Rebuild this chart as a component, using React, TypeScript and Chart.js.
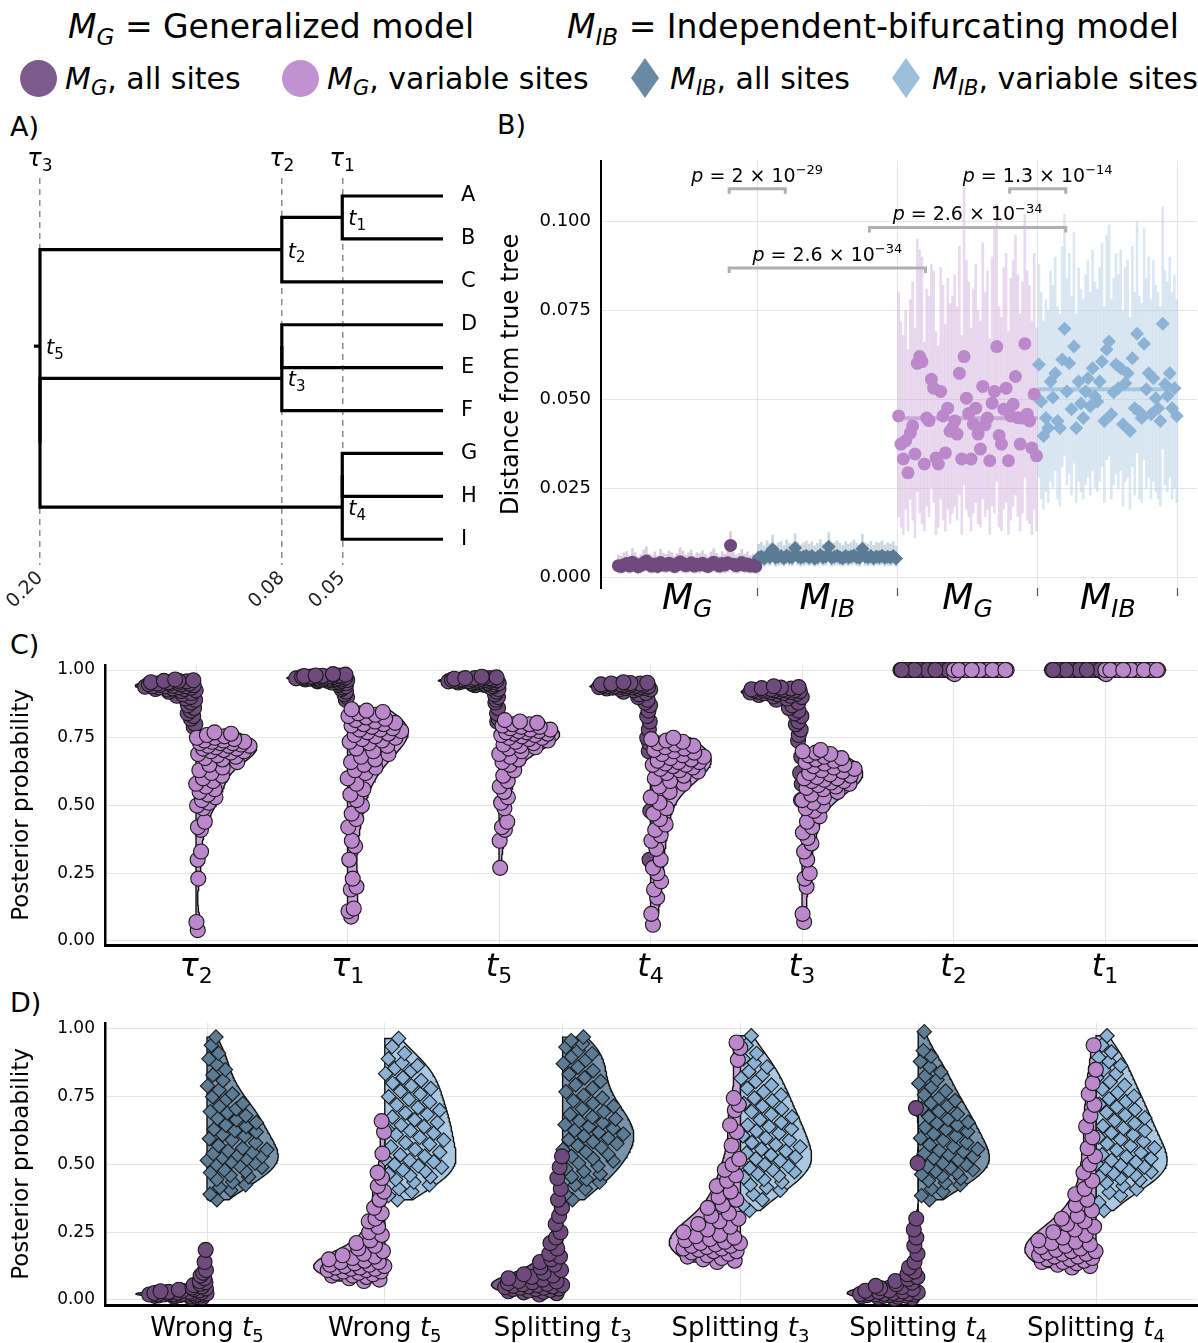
import React, { useEffect, useRef } from 'react';
import { Chart, registerables } from 'chart.js';

Chart.register(...registerables);

const FONT = "'DejaVu Sans', sans-serif";
Chart.defaults.font.family = FONT;
Chart.defaults.color = '#000';

/* ======================= DATA ======================= */
// ---- Panel A : tree
const tipLabels = ['A', 'B', 'C', 'D', 'E', 'F', 'G', 'H', 'I'];
const nodeNames = ['n1', 'n2', 'n3a', 'n3', 'n4a', 'n4', 'n5a', 'root'];
const nodeTimes = [0.05, 0.08, 0.08, 0.08, 0.05, 0.05, 0.2, 0.2];
const nodeChildren = [['A', 'B'], ['n1', 'C'], ['D', 'E'], ['n3a', 'F'], ['G', 'H'], ['n4a', 'I'], ['n3', 'n4'], ['n2', 'n5a']];
const nodeTimeLabels = ['1', '2', '', '3', '', '4', '', '5'];
const tauTimes = [0.2, 0.08, 0.05];
const tauLabels = ['3', '2', '1'];
const rootEdge = 0.003;

// ---- Panel B : distance from true tree
const bCategories = [['M', 'G'], ['M', 'IB'], ['M', 'G'], ['M', 'IB']];
const bYTicks = [0, 0.025, 0.05, 0.075, 0.1];
const bMgAll = [0.0032,0.0030,0.0035,0.0038,0.0031,0.0042,0.0036,0.0029,0.0033,0.0040,0.0045,0.0034,0.0031,0.0037,0.0030,0.0041,0.0035,0.0033,0.0039,0.0036,0.0030,0.0034,0.0043,0.0038,0.0032,0.0035,0.0040,0.0031,0.0036,0.0034,0.0039,0.0033,0.0030,0.0037,0.0042,0.0035,0.0031,0.0038,0.0034,0.0040,0.0089,0.0036,0.0032,0.0035,0.0041,0.0033,0.0037,0.0031,0.0034,0.0030];
const bMgAllLow = [0.0012,0.0010,0.0013,0.0015,0.0011,0.0016,0.0013,0.0009,0.0012,0.0015,0.0017,0.0012,0.0011,0.0014,0.0010,0.0016,0.0013,0.0012,0.0015,0.0013,0.0010,0.0012,0.0017,0.0014,0.0011,0.0013,0.0015,0.0011,0.0013,0.0012,0.0015,0.0012,0.0010,0.0014,0.0016,0.0013,0.0011,0.0014,0.0012,0.0015,0.0040,0.0013,0.0011,0.0013,0.0016,0.0012,0.0014,0.0011,0.0012,0.0010];
const bMgAllHigh = [0.0062,0.0058,0.0068,0.0072,0.0060,0.0080,0.0069,0.0057,0.0063,0.0076,0.0085,0.0065,0.0060,0.0071,0.0058,0.0078,0.0067,0.0064,0.0074,0.0069,0.0058,0.0066,0.0082,0.0073,0.0062,0.0068,0.0076,0.0060,0.0069,0.0066,0.0074,0.0064,0.0058,0.0071,0.0080,0.0067,0.0060,0.0072,0.0065,0.0076,0.0128,0.0069,0.0062,0.0067,0.0078,0.0064,0.0071,0.0060,0.0065,0.0058];
const bIbAll = [0.0055,0.0058,0.0052,0.0060,0.0056,0.0078,0.0054,0.0057,0.0059,0.0053,0.0061,0.0056,0.0055,0.0082,0.0058,0.0054,0.0057,0.0060,0.0055,0.0059,0.0052,0.0056,0.0062,0.0055,0.0058,0.0085,0.0054,0.0057,0.0060,0.0056,0.0053,0.0059,0.0055,0.0058,0.0061,0.0056,0.0054,0.0080,0.0057,0.0055,0.0059,0.0053,0.0058,0.0056,0.0060,0.0054,0.0057,0.0055,0.0059,0.0052];
const bIbAllLow = [0.0032,0.0034,0.0030,0.0035,0.0033,0.0045,0.0031,0.0033,0.0034,0.0031,0.0036,0.0033,0.0032,0.0048,0.0034,0.0031,0.0033,0.0035,0.0032,0.0034,0.0030,0.0033,0.0036,0.0032,0.0034,0.0050,0.0031,0.0033,0.0035,0.0033,0.0031,0.0034,0.0032,0.0034,0.0036,0.0033,0.0031,0.0047,0.0033,0.0032,0.0034,0.0031,0.0034,0.0033,0.0035,0.0031,0.0033,0.0032,0.0034,0.0030];
const bIbAllHigh = [0.0092,0.0098,0.0088,0.0102,0.0094,0.0118,0.0090,0.0096,0.0100,0.0089,0.0104,0.0095,0.0093,0.0122,0.0098,0.0091,0.0096,0.0101,0.0093,0.0099,0.0088,0.0095,0.0105,0.0093,0.0098,0.0125,0.0091,0.0096,0.0102,0.0095,0.0089,0.0100,0.0093,0.0098,0.0104,0.0095,0.0091,0.0120,0.0097,0.0093,0.0100,0.0089,0.0098,0.0095,0.0102,0.0091,0.0096,0.0093,0.0100,0.0088];
const bMgVar = [0.0453,0.0374,0.0332,0.0383,0.0293,0.0405,0.0425,0.0346,0.0601,0.0620,0.0606,0.0318,0.0447,0.0440,0.0556,0.0531,0.0335,0.0318,0.0522,0.0453,0.0349,0.0475,0.0410,0.0419,0.0439,0.0402,0.0573,0.0332,0.0620,0.0503,0.0460,0.0332,0.0430,0.0475,0.0402,0.0360,0.0536,0.0428,0.0447,0.0327,0.0489,0.0522,0.0648,0.0398,0.0374,0.0472,0.0531,0.0327,0.0453,0.0486,0.0564,0.0448,0.0374,0.0447,0.0656,0.0458,0.0439,0.0363,0.0514,0.0341];
const bMgVarLow = [0.017,0.014,0.012,0.019,0.013,0.022,0.016,0.011,0.024,0.018,0.015,0.013,0.020,0.017,0.025,0.021,0.012,0.014,0.022,0.016,0.013,0.019,0.015,0.018,0.020,0.016,0.023,0.012,0.026,0.019,0.017,0.013,0.018,0.021,0.015,0.014,0.022,0.017,0.019,0.012,0.020,0.018,0.027,0.014,0.013,0.019,0.021,0.012,0.016,0.020,0.023,0.017,0.013,0.018,0.028,0.016,0.015,0.012,0.019,0.013];
const bMgVarHigh = [0.080,0.072,0.068,0.075,0.064,0.078,0.083,0.070,0.095,0.092,0.090,0.066,0.081,0.079,0.088,0.086,0.069,0.065,0.087,0.082,0.071,0.084,0.077,0.079,0.085,0.076,0.093,0.068,0.110,0.089,0.083,0.070,0.081,0.088,0.075,0.072,0.094,0.080,0.086,0.067,0.090,0.098,0.105,0.076,0.073,0.087,0.091,0.069,0.084,0.089,0.096,0.085,0.074,0.083,0.102,0.086,0.082,0.072,0.091,0.070];
const bIbVar = [0.0598,0.0494,0.0397,0.0447,0.0419,0.0550,0.0505,0.0573,0.0439,0.0419,0.0612,0.0698,0.0522,0.0601,0.0472,0.0648,0.0419,0.0550,0.0488,0.0447,0.0522,0.0559,0.0480,0.0587,0.0508,0.0494,0.0550,0.0606,0.0439,0.0640,0.0662,0.0458,0.0520,0.0598,0.0531,0.0587,0.0430,0.0545,0.0573,0.0411,0.0615,0.0475,0.0684,0.0465,0.0447,0.0656,0.0528,0.0573,0.0458,0.0559,0.0503,0.0475,0.0439,0.0712,0.0542,0.0510,0.0573,0.0475,0.0531,0.0453];
const bIbVarLow = [0.028,0.022,0.019,0.024,0.021,0.027,0.025,0.030,0.022,0.020,0.031,0.034,0.026,0.029,0.023,0.032,0.021,0.027,0.024,0.022,0.026,0.028,0.023,0.030,0.025,0.024,0.027,0.031,0.021,0.033,0.034,0.022,0.026,0.029,0.025,0.030,0.020,0.027,0.028,0.019,0.031,0.023,0.035,0.022,0.021,0.033,0.025,0.028,0.022,0.027,0.024,0.022,0.020,0.036,0.026,0.024,0.028,0.022,0.025,0.021];
const bIbVarHigh = [0.088,0.080,0.072,0.078,0.075,0.086,0.082,0.090,0.076,0.074,0.093,0.102,0.084,0.091,0.079,0.097,0.074,0.087,0.081,0.078,0.085,0.089,0.080,0.092,0.083,0.081,0.087,0.094,0.076,0.096,0.099,0.078,0.084,0.091,0.085,0.092,0.075,0.087,0.089,0.073,0.093,0.080,0.100,0.079,0.077,0.098,0.084,0.090,0.078,0.089,0.082,0.080,0.076,0.104,0.086,0.083,0.090,0.080,0.085,0.078];
const pMantissa = ['2', '1.3', '2.6', '2.6'];
const pExponent = ['\u221229', '\u221214', '\u221234', '\u221234'];
const pFrom = [80, 280, 180, 80];
const pTo = [120, 320, 320, 220];
const pLevel = [0.1092, 0.1092, 0.0983, 0.0869];

// ---- Panel C : posterior probability of divergence events
const probTicks = [0, 0.25, 0.5, 0.75, 1];
const cCategories = [['\u03c4', '2'], ['\u03c4', '1'], ['t', '5'], ['t', '4'], ['t', '3'], ['t', '2'], ['t', '1']];
const cTau2All = [0.965,0.962,0.96,0.96,0.958,0.955,0.955,0.953,0.95,0.95,0.95,0.948,0.946,0.945,0.944,0.942,0.94,0.94,0.94,0.938,0.936,0.935,0.934,0.932,0.93,0.93,0.928,0.925,0.922,0.92,0.915,0.91,0.905,0.9,0.895,0.89,0.88,0.87,0.86,0.85,0.84,0.83,0.82,0.80,0.79];
const cTau2Var = [0.77,0.765,0.76,0.755,0.75,0.75,0.745,0.74,0.74,0.735,0.735,0.73,0.73,0.73,0.725,0.72,0.72,0.72,0.715,0.71,0.71,0.705,0.70,0.70,0.695,0.69,0.685,0.68,0.675,0.67,0.66,0.65,0.64,0.63,0.62,0.61,0.60,0.59,0.58,0.57,0.56,0.55,0.54,0.53,0.52,0.51,0.50,0.49,0.44,0.42,0.41,0.33,0.30,0.23,0.07,0.04];
const cTau1All = [0.985,0.983,0.982,0.98,0.98,0.979,0.978,0.977,0.976,0.976,0.975,0.975,0.974,0.973,0.972,0.971,0.971,0.97,0.97,0.969,0.968,0.968,0.967,0.966,0.965,0.965,0.964,0.963,0.962,0.961,0.96,0.96,0.958,0.956,0.954,0.952,0.95,0.945,0.94,0.935,0.93,0.92,0.91,0.9,0.89];
const cTau1Var = [0.855,0.85,0.845,0.84,0.835,0.83,0.825,0.82,0.815,0.81,0.805,0.80,0.80,0.795,0.79,0.785,0.78,0.78,0.775,0.77,0.765,0.76,0.755,0.75,0.745,0.74,0.735,0.73,0.72,0.71,0.70,0.69,0.68,0.67,0.66,0.65,0.64,0.63,0.62,0.60,0.58,0.56,0.54,0.52,0.50,0.47,0.45,0.42,0.37,0.35,0.30,0.23,0.20,0.19,0.12,0.11,0.09];
const cT5All = [0.975,0.973,0.972,0.97,0.97,0.97,0.968,0.967,0.966,0.965,0.965,0.964,0.963,0.962,0.962,0.961,0.96,0.96,0.959,0.958,0.958,0.957,0.956,0.955,0.954,0.953,0.952,0.951,0.95,0.948,0.946,0.945,0.944,0.94,0.935,0.93,0.92,0.91,0.9,0.89,0.88,0.86,0.84,0.82,0.81];
const cT5Var = [0.815,0.81,0.805,0.80,0.80,0.795,0.79,0.79,0.785,0.78,0.78,0.775,0.775,0.77,0.77,0.765,0.765,0.76,0.76,0.755,0.75,0.75,0.745,0.74,0.735,0.73,0.725,0.72,0.715,0.71,0.70,0.69,0.68,0.67,0.66,0.65,0.63,0.61,0.59,0.57,0.55,0.53,0.51,0.49,0.44,0.42,0.41,0.37,0.27];
const cT4All = [0.955,0.953,0.952,0.95,0.95,0.948,0.947,0.946,0.945,0.945,0.944,0.943,0.942,0.941,0.94,0.94,0.939,0.938,0.938,0.937,0.936,0.935,0.934,0.933,0.932,0.931,0.93,0.928,0.925,0.92,0.915,0.91,0.9,0.89,0.88,0.87,0.85,0.83,0.81,0.78,0.75,0.73,0.70,0.48,0.30];
const cT4Var = [0.75,0.745,0.74,0.735,0.73,0.725,0.72,0.715,0.71,0.705,0.70,0.695,0.69,0.685,0.68,0.675,0.67,0.665,0.66,0.66,0.655,0.65,0.65,0.645,0.64,0.635,0.63,0.625,0.62,0.61,0.60,0.59,0.58,0.57,0.55,0.53,0.51,0.49,0.47,0.45,0.43,0.41,0.39,0.37,0.34,0.30,0.27,0.25,0.22,0.19,0.16,0.10,0.06];
const cT3All = [0.94,0.937,0.935,0.933,0.932,0.93,0.929,0.928,0.927,0.926,0.925,0.925,0.924,0.923,0.922,0.921,0.92,0.919,0.918,0.917,0.915,0.914,0.912,0.91,0.908,0.905,0.902,0.90,0.895,0.89,0.88,0.87,0.86,0.85,0.84,0.83,0.81,0.80,0.78,0.76,0.74,0.68,0.62,0.58,0.52];
const cT3Var = [0.705,0.70,0.695,0.69,0.685,0.68,0.675,0.67,0.665,0.66,0.655,0.65,0.645,0.64,0.635,0.63,0.625,0.62,0.615,0.61,0.605,0.60,0.60,0.595,0.59,0.59,0.585,0.58,0.575,0.57,0.565,0.56,0.55,0.54,0.53,0.52,0.51,0.50,0.49,0.48,0.46,0.44,0.42,0.40,0.38,0.36,0.33,0.30,0.25,0.23,0.20,0.10,0.07];
const cT2All = [1,1,1,1,1,1,1,1,1,1,1,1,1,1,1,1,1,1,1,1,1,1,1,1,1,0.99];
const cT2Var = [1,1,1,1,1,1,1,1,1,1,1,1,1,1,1,1,1,1,1,1,1,1,1,1,1,0.985];
const cT1All = [1,1,1,1,1,1,1,1,1,1,1,1,1,1,1,1,1,1,1,1,1,1,1,1,1,0.99];
const cT1Var = [1,1,1,1,1,1,1,1,1,1,1,1,1,1,1,1,1,1,1,1,1,1,1,1,1,0.985];

// ---- Panel D : posterior probability of wrong / splitting events
const dCategories = [['Wrong ', '5'], ['Wrong ', '5'], ['Splitting ', '3'], ['Splitting ', '3'], ['Splitting ', '4'], ['Splitting ', '4']];
const dSiteSets = ['all', 'variable', 'all', 'variable', 'all', 'variable'];
const dWrongT5AllMg = [0.008,0.01,0.012,0.013,0.015,0.015,0.016,0.017,0.018,0.019,0.02,0.02,0.02,0.021,0.022,0.022,0.023,0.024,0.025,0.025,0.026,0.027,0.028,0.03,0.03,0.032,0.034,0.036,0.038,0.04,0.043,0.046,0.05,0.055,0.06,0.065,0.07,0.08,0.09,0.1,0.11,0.14,0.185];
const dWrongT5AllIb = [0.37,0.39,0.405,0.415,0.425,0.435,0.445,0.455,0.46,0.47,0.475,0.48,0.49,0.495,0.50,0.505,0.51,0.515,0.52,0.525,0.53,0.535,0.54,0.545,0.55,0.555,0.56,0.57,0.58,0.59,0.595,0.605,0.61,0.62,0.625,0.63,0.64,0.645,0.655,0.665,0.67,0.68,0.69,0.695,0.705,0.715,0.725,0.74,0.75,0.76,0.775,0.79,0.81,0.83,0.85,0.87,0.89,0.91,0.94,0.97];
const dWrongT5VarMg = [0.07,0.075,0.08,0.085,0.09,0.09,0.095,0.1,0.1,0.105,0.105,0.11,0.11,0.115,0.115,0.12,0.12,0.125,0.125,0.13,0.13,0.135,0.14,0.14,0.145,0.15,0.155,0.16,0.165,0.17,0.18,0.19,0.2,0.21,0.22,0.24,0.25,0.27,0.29,0.3,0.32,0.34,0.37,0.4,0.42,0.45,0.47,0.54,0.62,0.66];
const dWrongT5VarIb = [0.37,0.385,0.40,0.41,0.425,0.435,0.445,0.455,0.46,0.465,0.475,0.48,0.49,0.495,0.50,0.51,0.515,0.52,0.53,0.535,0.545,0.555,0.565,0.575,0.58,0.59,0.60,0.61,0.615,0.625,0.63,0.64,0.645,0.655,0.665,0.675,0.685,0.69,0.70,0.71,0.72,0.73,0.74,0.75,0.76,0.77,0.78,0.79,0.80,0.81,0.82,0.835,0.845,0.855,0.865,0.875,0.89,0.91,0.935,0.965];
const dSplitT3AllMg = [0.02,0.025,0.028,0.03,0.032,0.035,0.037,0.04,0.04,0.042,0.045,0.045,0.047,0.05,0.05,0.052,0.055,0.055,0.058,0.06,0.062,0.065,0.068,0.07,0.075,0.08,0.085,0.09,0.095,0.1,0.11,0.12,0.13,0.14,0.15,0.16,0.17,0.19,0.21,0.23,0.25,0.28,0.31,0.34,0.37,0.41,0.45,0.49,0.53];
const dSplitT3AllIb = [0.37,0.39,0.41,0.425,0.435,0.445,0.455,0.465,0.475,0.485,0.495,0.505,0.513,0.522,0.53,0.538,0.546,0.555,0.563,0.57,0.577,0.584,0.591,0.598,0.605,0.612,0.619,0.626,0.633,0.64,0.647,0.654,0.661,0.668,0.675,0.685,0.695,0.705,0.715,0.725,0.735,0.745,0.755,0.768,0.781,0.794,0.807,0.82,0.833,0.846,0.859,0.872,0.885,0.897,0.909,0.921,0.933,0.945,0.957,0.97];
const dSplitT3VarMg = [0.14,0.145,0.15,0.155,0.16,0.165,0.17,0.175,0.18,0.18,0.185,0.19,0.19,0.195,0.2,0.2,0.205,0.21,0.21,0.215,0.22,0.225,0.23,0.235,0.24,0.25,0.26,0.27,0.28,0.29,0.3,0.31,0.32,0.34,0.35,0.37,0.38,0.4,0.42,0.44,0.46,0.48,0.5,0.52,0.57,0.62,0.645,0.7,0.72,0.745,0.886,0.93,0.95];
const dSplitT3VarIb = [0.33,0.35,0.37,0.39,0.405,0.415,0.425,0.435,0.445,0.452,0.459,0.466,0.473,0.48,0.487,0.494,0.5,0.507,0.514,0.521,0.528,0.535,0.542,0.549,0.556,0.565,0.573,0.581,0.59,0.598,0.606,0.615,0.623,0.631,0.64,0.645,0.655,0.665,0.675,0.685,0.695,0.705,0.715,0.725,0.735,0.745,0.756,0.768,0.781,0.793,0.806,0.818,0.831,0.843,0.86,0.875,0.89,0.91,0.94,0.975];
const dSplitT4AllMg = [0.005,0.008,0.01,0.012,0.014,0.015,0.016,0.018,0.019,0.02,0.02,0.021,0.022,0.023,0.024,0.025,0.026,0.028,0.03,0.032,0.034,0.036,0.04,0.044,0.048,0.052,0.058,0.064,0.07,0.077,0.085,0.095,0.105,0.12,0.14,0.17,0.2,0.23,0.26,0.3,0.505,0.708];
const dSplitT4AllIb = [0.37,0.385,0.40,0.41,0.425,0.433,0.441,0.449,0.457,0.463,0.469,0.475,0.481,0.487,0.493,0.499,0.505,0.511,0.517,0.523,0.529,0.535,0.541,0.547,0.552,0.557,0.565,0.573,0.581,0.589,0.597,0.605,0.613,0.621,0.629,0.637,0.645,0.652,0.656,0.666,0.676,0.686,0.696,0.706,0.716,0.726,0.736,0.746,0.757,0.771,0.785,0.799,0.813,0.827,0.841,0.86,0.88,0.9,0.92,0.99];
const dSplitT4VarMg = [0.12,0.125,0.13,0.135,0.14,0.14,0.145,0.15,0.15,0.155,0.16,0.16,0.165,0.17,0.17,0.175,0.18,0.18,0.185,0.19,0.195,0.2,0.205,0.21,0.215,0.22,0.23,0.24,0.25,0.26,0.27,0.28,0.29,0.3,0.31,0.33,0.35,0.37,0.39,0.41,0.44,0.47,0.5,0.53,0.56,0.6,0.64,0.68,0.72,0.76,0.8,0.85,0.94];
const dSplitT4VarIb = [0.33,0.36,0.385,0.397,0.409,0.421,0.433,0.443,0.449,0.455,0.461,0.467,0.473,0.479,0.485,0.491,0.497,0.503,0.509,0.515,0.522,0.529,0.536,0.544,0.553,0.561,0.569,0.577,0.585,0.593,0.601,0.609,0.617,0.625,0.633,0.642,0.652,0.662,0.672,0.682,0.692,0.702,0.712,0.722,0.732,0.742,0.752,0.765,0.778,0.792,0.805,0.82,0.835,0.85,0.865,0.88,0.895,0.915,0.94,0.975];

/* ======================= STYLES ======================= */
const COL = { mgAll: '#6f4b7d', mgVar: '#bb88cc', ibAll: '#5c7b94', ibVar: '#8cb3d5' };
const LEG = { mgAll: '#7d5b8c', mgVar: '#c093d0', ibAll: '#6a8aa3', ibVar: '#9cbfdc' };
const FILL = { mgAll: '#7d5a8c', mgVar: '#c9a1d8', ibAll: '#7893aa', ibVar: '#abc8e1' };
const BAR = { mgAll: 'rgba(165,125,180,0.4)', ibAll: 'rgba(125,155,180,0.4)', mgVar: 'rgba(205,168,220,0.42)', ibVar: 'rgba(175,203,228,0.45)' };
const MEAN = { mgAll: 'rgba(111,75,125,0.5)', ibAll: 'rgba(92,123,148,0.5)', mgVar: 'rgba(187,136,204,0.6)', ibVar: 'rgba(140,179,213,0.65)' };
const GRID = '#e5e5e5';
const HW = 0.4;

type Seg = { t: string; i?: boolean; sub?: boolean; sup?: boolean };
function drawRich(ctx: CanvasRenderingContext2D, segs: Seg[], x: number, y: number, size: number, align = 'center', color = '#000') {
  const small = Math.round(size * 0.7);
  const font = (s: Seg) => `${s.i ? 'italic ' : ''}${s.sub || s.sup ? small : size}px ${FONT}`;
  const widths = segs.map((s) => { ctx.font = font(s); return ctx.measureText(s.t).width; });
  const total = widths.reduce((a, b) => a + b, 0);
  let cx = align === 'center' ? x - total / 2 : align === 'right' ? x - total : x;
  ctx.save();
  ctx.fillStyle = color;
  ctx.textBaseline = 'alphabetic';
  ctx.textAlign = 'left';
  segs.forEach((s, k) => {
    ctx.font = font(s);
    ctx.fillText(s.t, cx, y + (s.sub ? size * 0.22 : s.sup ? -size * 0.4 : 0));
    cx += widths[k];
  });
  ctx.restore();
}

function halfViolin(values: number[], center: number, side: number, hw: number) {
  const s = [...values].sort((a, b) => a - b);
  const n = s.length;
  const mean = s.reduce((a, b) => a + b, 0) / n;
  const sd = Math.sqrt(s.reduce((a, b) => a + (b - mean) ** 2, 0) / Math.max(1, n - 1));
  const q = (p: number) => { const h = (n - 1) * p; const k = Math.floor(h); return s[k] + (s[Math.min(k + 1, n - 1)] - s[k]) * (h - k); };
  let spread = Math.min(sd, (q(0.75) - q(0.25)) / 1.34);
  if (!(spread > 0)) spread = sd;
  const bw = 0.9 * spread * Math.pow(n, -0.2);
  const dens = (y: number) => (bw > 0 ? s.reduce((a, v) => a + Math.exp(-0.5 * ((y - v) / bw) ** 2), 0) : 1);
  const lo = s[0];
  const hi = s[n - 1];
  const steps = 120;
  const ys = hi > lo ? Array.from({ length: steps + 1 }, (_, k) => lo + ((hi - lo) * k) / steps) : [lo];
  const dv = ys.map(dens);
  const dmax = Math.max(...dv, ...s.map(dens));
  const width = (y: number) => (hw * dens(y)) / dmax;
  const outline = [{ x: center, y: lo }, ...ys.map((y, k) => ({ x: center + (side * hw * dv[k]) / dmax, y })), { x: center, y: hi }, { x: center, y: lo }];
  const points = s.map((v, k) => {
    const u = (0.5 + k * 0.6180339887) % 1;
    return { x: center + side * 0.9 * u * width(v), y: v };
  });
  return { outline, points };
}

const violinDs = (outline: any[], fill: string) => ({
  data: outline, showLine: true, fill: 'shape', backgroundColor: fill, borderColor: '#111', borderWidth: 1.4,
  pointRadius: 0, pointHoverRadius: 0, tension: 0, order: 5, clip: false,
});
const pointDs = (pts: any[], color: string, style: string, r: number, order: number) => ({
  data: pts, showLine: false, pointStyle: style, pointRadius: r, pointHoverRadius: r, pointBackgroundColor: color,
  pointBorderColor: '#1a1a1a', pointBorderWidth: 1.1, order, clip: false,
});

/* ======================= CHART CONFIGS ======================= */
function makeTree(): any {
  const yOf: Record<string, number> = {};
  const tOf: Record<string, number> = {};
  tipLabels.forEach((t, i) => { yOf[t] = i + 1; tOf[t] = 0; });
  nodeNames.forEach((n, i) => {
    const [a, b] = nodeChildren[i];
    yOf[n] = (yOf[a] + yOf[b]) / 2;
    tOf[n] = nodeTimes[i];
  });
  const branch = (pts: any[]) => ({
    data: pts, showLine: true, borderColor: '#000', borderWidth: 3.2, borderJoinStyle: 'miter', borderCapStyle: 'butt',
    pointRadius: 0, pointHoverRadius: 0, tension: 0, clip: false,
  });
  const datasets: any[] = nodeNames.map((n, i) => {
    const [a, b] = nodeChildren[i];
    return branch([{ x: tOf[a], y: yOf[a] }, { x: tOf[n], y: yOf[a] }, { x: tOf[n], y: yOf[b] }, { x: tOf[b], y: yOf[b] }]);
  });
  const root = nodeNames[nodeNames.length - 1];
  datasets.push(branch([{ x: tOf[root], y: yOf[root] }, { x: tOf[root] + rootEdge, y: yOf[root] }]));
  return {
    type: 'scatter',
    data: { datasets },
    options: {
      responsive: false, animation: false, events: [],
      layout: { padding: { left: 40, top: 68, right: 0, bottom: 0 }, autoPadding: false },
      plugins: { legend: { display: false }, tooltip: { enabled: false } },
      scales: {
        x: {
          type: 'linear', reverse: true, min: 0, max: 0.2, position: 'bottom',
          afterBuildTicks: (a: any) => { a.ticks = tauTimes.map((v) => ({ value: v })); },
          ticks: { autoSkip: false, minRotation: 45, maxRotation: 45, font: { size: 19 }, color: '#222', padding: 2, callback: (v: any) => Number(v).toFixed(2) },
          grid: { color: '#8c8c8c', lineWidth: 1.5, drawTicks: false },
          border: { display: false, dash: [6, 5] },
          afterFit: (s: any) => { s.height = 55; },
        },
        y: {
          type: 'linear', position: 'right', reverse: true, min: 0.58, max: 9.6,
          afterBuildTicks: (a: any) => { a.ticks = tipLabels.map((_, i) => ({ value: i + 1 })); },
          ticks: { autoSkip: false, font: { size: 21 }, color: '#000', padding: 10, callback: (v: any) => tipLabels[Math.round(v) - 1] ?? '' },
          grid: { display: false }, border: { display: false },
          afterFit: (s: any) => { s.width = 52; },
        },
      },
    },
    plugins: [{
      id: 'treeText',
      afterDraw(chart: any) {
        const { ctx, chartArea } = chart;
        const xs = chart.scales.x; const ys = chart.scales.y;
        tauTimes.forEach((t, k) => drawRich(ctx, [{ t: '\u03c4', i: true }, { t: tauLabels[k], sub: true }], xs.getPixelForValue(t), chartArea.top - 12, 24));
        nodeNames.forEach((n, i) => {
          if (nodeTimeLabels[i]) drawRich(ctx, [{ t: 't', i: true }, { t: nodeTimeLabels[i], sub: true }], xs.getPixelForValue(tOf[n]) + 6, ys.getPixelForValue(yOf[n]) + 8, 21, 'left');
        });
      },
    }],
  };
}

function makeB(): any {
  const groups = [
    { v: bMgAll, lo: bMgAllLow, hi: bMgAllHigh, col: COL.mgAll, bar: BAR.mgAll, mean: MEAN.mgAll, style: 'circle' },
    { v: bIbAll, lo: bIbAllLow, hi: bIbAllHigh, col: COL.ibAll, bar: BAR.ibAll, mean: MEAN.ibAll, style: 'rectRot' },
    { v: bMgVar, lo: bMgVarLow, hi: bMgVarHigh, col: COL.mgVar, bar: BAR.mgVar, mean: MEAN.mgVar, style: 'circle' },
    { v: bIbVar, lo: bIbVarLow, hi: bIbVarHigh, col: COL.ibVar, bar: BAR.ibVar, mean: MEAN.ibVar, style: 'rectRot' },
  ];
  const bars: any[] = [];
  const barCols: string[] = [];
  const datasets: any[] = [];
  groups.forEach((g, gi) => {
    const n = g.v.length;
    const xs = g.v.map((_, i) => gi * 100 + ((i + 0.5) * 100) / n);
    xs.forEach((x, i) => { bars.push({ x, y: [g.lo[i], g.hi[i]] }); barCols.push(g.bar); });
    const mean = g.v.reduce((a, b) => a + b, 0) / n;
    datasets.push({ type: 'scatter', data: [{ x: gi * 100, y: mean }, { x: gi * 100 + 100, y: mean }], showLine: true, borderColor: g.mean, borderWidth: 4, pointRadius: 0, pointHoverRadius: 0, order: 3 });
    datasets.push({ type: 'scatter', data: xs.map((x, i) => ({ x, y: g.v[i] })), pointStyle: g.style, pointRadius: g.style === 'circle' ? 6.5 : 7, pointHoverRadius: 6.5, pointBackgroundColor: g.col, pointBorderWidth: 0, showLine: false, order: 1, clip: false });
  });
  datasets.push({ type: 'bar', data: bars, backgroundColor: barCols, barThickness: 2, borderWidth: 0, order: 6 });
  const tick = 0.0014;
  pFrom.forEach((f, k) => {
    datasets.push({ type: 'scatter', data: [{ x: f, y: pLevel[k] - tick }, { x: f, y: pLevel[k] }, { x: pTo[k], y: pLevel[k] }, { x: pTo[k], y: pLevel[k] - tick }], showLine: true, borderColor: '#b0b0b0', borderWidth: 3, pointRadius: 0, pointHoverRadius: 0, order: 0, clip: false });
  });
  return {
    type: 'scatter',
    data: { datasets },
    options: {
      responsive: false, animation: false, events: [],
      layout: { padding: { left: 0, top: 18, right: 1, bottom: 0 }, autoPadding: false },
      plugins: { legend: { display: false }, tooltip: { enabled: false } },
      scales: {
        x: {
          type: 'linear', min: -11.4, max: 413.6, offset: false,
          afterBuildTicks: (a: any) => { a.ticks = [100, 200, 300, 400].map((v) => ({ value: v })); },
          ticks: { autoSkip: false, callback: () => '', padding: 0 },
          grid: { color: GRID, lineWidth: 1, offset: false, drawTicks: true, tickLength: 8, tickColor: '#555', tickWidth: 1.2 },
          border: { display: false },
          afterFit: (s: any) => { s.height = 37; },
        },
        y: {
          type: 'linear', min: -0.00307, max: 0.11704,
          afterBuildTicks: (a: any) => { a.ticks = bYTicks.map((v) => ({ value: v })); },
          ticks: { autoSkip: false, font: { size: 18 }, color: '#000', padding: 10, callback: (v: any) => Number(v).toFixed(3) },
          grid: { color: GRID, lineWidth: 1, drawTicks: false },
          border: { color: '#000', width: 2 },
          title: { display: true, text: 'Distance from true tree', font: { size: 24 }, color: '#000', padding: { top: 7, bottom: 0 } },
          afterFit: (s: any) => { s.width = 111; },
        },
      },
    },
    plugins: [{
      id: 'bText',
      afterDraw(chart: any) {
        const { ctx, chartArea } = chart;
        const xs = chart.scales.x; const ys = chart.scales.y;
        bCategories.forEach((c, i) => drawRich(ctx, [{ t: c[0], i: true }, { t: c[1], i: true, sub: true }], xs.getPixelForValue(i * 100 + 50), chartArea.bottom + 21, 36));
        pFrom.forEach((f, k) => {
          drawRich(ctx, [{ t: 'p', i: true }, { t: ' = ' + pMantissa[k] + ' \u00d7 10' }, { t: pExponent[k], sup: true }],
            xs.getPixelForValue((f + pTo[k]) / 2), ys.getPixelForValue(pLevel[k]) - 7, 19);
        });
      },
    }],
  };
}

function probScales(xmin: number, xmax: number, ymin: number, ymax: number, nCats: number, bottomH: number) {
  return {
    x: {
      type: 'linear', min: xmin, max: xmax, offset: false,
      afterBuildTicks: (a: any) => { a.ticks = Array.from({ length: nCats }, (_, i) => ({ value: i })); },
      ticks: { display: false },
      grid: { color: GRID, lineWidth: 1, drawTicks: false, offset: false },
      border: { color: '#000', width: 3 },
      afterFit: (s: any) => { s.height = bottomH; },
    },
    y: {
      type: 'linear', min: ymin, max: ymax,
      afterBuildTicks: (a: any) => { a.ticks = probTicks.map((v) => ({ value: v })); },
      ticks: { autoSkip: false, font: { size: 17 }, color: '#000', padding: 10, callback: (v: any) => Number(v).toFixed(2) },
      grid: { color: GRID, lineWidth: 1, drawTicks: false },
      border: { color: '#000', width: 2.5 },
      title: { display: true, text: 'Posterior probability', font: { size: 23 }, color: '#000', padding: { top: 8, bottom: 0 } },
      afterFit: (s: any) => { s.width = 105; },
    },
  };
}

function makeC(): any {
  const sets = [[cTau2All, cTau2Var], [cTau1All, cTau1Var], [cT5All, cT5Var], [cT4All, cT4Var], [cT3All, cT3Var], [cT2All, cT2Var], [cT1All, cT1Var]];
  const datasets: any[] = [];
  sets.forEach(([all, vr], i) => {
    const a = halfViolin(all, i, -1, HW);
    const b = halfViolin(vr, i, 1, HW);
    datasets.push(violinDs(a.outline, FILL.mgAll), violinDs(b.outline, FILL.mgVar));
    datasets.push(pointDs(a.points, COL.mgAll, 'circle', 7.5, 2), pointDs(b.points, COL.mgVar, 'circle', 7.5, 1));
  });
  return {
    type: 'scatter',
    data: { datasets },
    options: {
      responsive: false, animation: false, events: [],
      layout: { padding: { left: 0, top: 25, right: 1, bottom: 0 }, autoPadding: false },
      plugins: { legend: { display: false }, tooltip: { enabled: false } },
      scales: probScales(-0.6007, 6.607, -0.0148, 1.0185, cCategories.length, 55),
    },
    plugins: [{
      id: 'cText',
      afterDraw(chart: any) {
        const { ctx, chartArea } = chart;
        const xs = chart.scales.x;
        cCategories.forEach((c, i) => drawRich(ctx, [{ t: c[0], i: true }, { t: c[1], sub: true }], xs.getPixelForValue(i), chartArea.bottom + 31, 32));
      },
    }],
  };
}

function makeD(): any {
  const sets = [[dWrongT5AllMg, dWrongT5AllIb], [dWrongT5VarMg, dWrongT5VarIb], [dSplitT3AllMg, dSplitT3AllIb], [dSplitT3VarMg, dSplitT3VarIb], [dSplitT4AllMg, dSplitT4AllIb], [dSplitT4VarMg, dSplitT4VarIb]];
  const datasets: any[] = [];
  sets.forEach(([mg, ib], i) => {
    const variable = dSiteSets[i] === 'variable';
    const a = halfViolin(mg, i, -1, HW);
    const b = halfViolin(ib, i, 1, HW);
    datasets.push(violinDs(a.outline, variable ? FILL.mgVar : FILL.mgAll), violinDs(b.outline, variable ? FILL.ibVar : FILL.ibAll));
    datasets.push(pointDs(a.points, variable ? COL.mgVar : COL.mgAll, 'circle', 7.5, 1));
    datasets.push(pointDs(b.points, variable ? COL.ibVar : COL.ibAll, 'rectRot', 7.2, 2));
  });
  return {
    type: 'scatter',
    data: { datasets },
    options: {
      responsive: false, animation: false, events: [],
      layout: { padding: { left: 0, top: 23, right: 1, bottom: 0 }, autoPadding: false },
      plugins: { legend: { display: false }, tooltip: { enabled: false } },
      scales: probScales(-0.5737, 5.568, -0.0185, 1.022, dCategories.length, 38),
    },
    plugins: [{
      id: 'dText',
      afterDraw(chart: any) {
        const { ctx, chartArea } = chart;
        const xs = chart.scales.x;
        dCategories.forEach((c, i) => drawRich(ctx, [{ t: c[0] }, { t: 't', i: true }, { t: c[1], sub: true }], xs.getPixelForValue(i), chartArea.bottom + 31, 26));
      },
    }],
  };
}

/* ======================= COMPONENTS ======================= */
function ChartBox({ x, y, w, h, make }: { x: number; y: number; w: number; h: number; make: () => any }) {
  const ref = useRef<HTMLCanvasElement>(null);
  useEffect(() => {
    const chart = new Chart(ref.current as HTMLCanvasElement, make());
    return () => chart.destroy();
  }, [make]);
  return <canvas ref={ref} width={w} height={h} style={{ position: 'absolute', left: x, top: y, width: w, height: h }} />;
}

const Sub = ({ children }: { children: any }) => (
  <span style={{ fontSize: '0.7em', position: 'relative', top: '0.3em' }}>{children}</span>
);

const abs = (left: number, top: number, size: number): React.CSSProperties => ({
  position: 'absolute', left, top, fontSize: size, lineHeight: 'normal', whiteSpace: 'nowrap', fontFamily: FONT, color: '#000',
});

export default function App() {
  return (
    <div style={{ position: 'absolute', left: 0, top: 0, width: 1198, height: 1343, background: '#fff', overflow: 'hidden', fontFamily: FONT }}>
      {/* legend */}
      <div style={abs(68, 7, 33)}><i>M</i><Sub><i>G</i></Sub> = Generalized model</div>
      <div style={abs(567, 7, 33)}><i>M</i><Sub><i>IB</i></Sub> = Independent-bifurcating model</div>

      <div style={{ position: 'absolute', left: 20, top: 60, width: 37, height: 37, borderRadius: '50%', background: LEG.mgAll }} />
      <div style={abs(65, 61, 30)}><i>M</i><Sub><i>G</i></Sub>, all sites</div>
      <div style={{ position: 'absolute', left: 282, top: 60, width: 37, height: 37, borderRadius: '50%', background: LEG.mgVar }} />
      <div style={abs(327, 61, 30)}><i>M</i><Sub><i>G</i></Sub>, variable sites</div>
      <div style={{ position: 'absolute', left: 631, top: 58, width: 28, height: 40, background: LEG.ibAll, clipPath: 'polygon(50% 0, 100% 50%, 50% 100%, 0 50%)' }} />
      <div style={abs(670, 61, 30)}><i>M</i><Sub><i>IB</i></Sub>, all sites</div>
      <div style={{ position: 'absolute', left: 892, top: 58, width: 28, height: 40, background: LEG.ibVar, clipPath: 'polygon(50% 0, 100% 50%, 50% 100%, 0 50%)' }} />
      <div style={abs(932, 61, 30)}><i>M</i><Sub><i>IB</i></Sub>, variable sites</div>

      {/* panel letters */}
      <div style={abs(10, 111, 27)}>A)</div>
      <div style={abs(497, 109, 27)}>B)</div>
      <div style={abs(10, 629, 27)}>C)</div>
      <div style={abs(10, 987, 27)}>D)</div>

      <ChartBox x={0} y={110} w={495} h={510} make={makeTree} />
      <ChartBox x={490} y={140} w={708} h={485} make={makeB} />
      <ChartBox x={0} y={640} w={1198} h={360} make={makeC} />
      <ChartBox x={0} y={1000} w={1198} h={343} make={makeD} />
    </div>
  );
}
